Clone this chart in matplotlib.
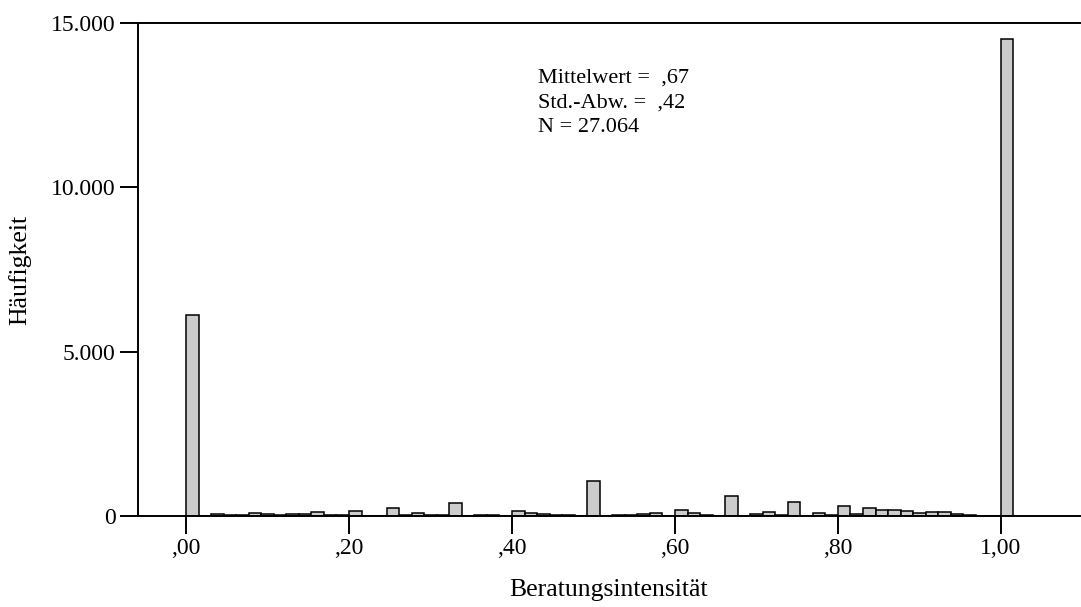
import matplotlib
matplotlib.use('Agg')
import matplotlib.pyplot as plt
import numpy as np

plt.rcParams['font.family'] = ['Liberation Serif', 'DejaVu Serif']

# histogram: 66 bins of width 1/65 starting at 0
bin_width = 1 / 65
counts = [6115, 15, 60, 30, 30, 80, 50, 30, 50, 70, 110,
          30, 20, 140, 10, 10, 235, 20, 80, 20, 20, 385,
          10, 30, 40, 10, 150, 100, 50, 20, 30, 10, 1065,
          10, 20, 30, 60, 100, 15, 180, 90, 40, 10, 610,
          10, 50, 120, 40, 435, 10, 100, 30, 315, 50, 235,
          195, 180, 140, 100, 130, 130, 70, 25, 10, 5, 14500]
x_ticks = [0.0, 0.2, 0.4, 0.6, 0.8, 1.0]
x_tick_labels = [',00', ',20', ',40', ',60', ',80', '1,00']
y_ticks = [0, 5000, 10000, 15000]
y_tick_labels = ['0', '5.000', '10.000', '15.000']
stats = ['Mittelwert =  ,67', 'Std.-Abw. =  ,42', 'N = 27.064']

W, H = 1081, 607
fig = plt.figure(figsize=(W / 100, H / 100), dpi=100)
ax = fig.add_axes([138 / W, 91 / H, 942 / W, 493 / H])

left_edges = np.arange(len(counts)) * bin_width
ax.bar(left_edges, counts, width=bin_width, align='edge',
       color='#cccccc', edgecolor='black', linewidth=1.1, zorder=2)

ax.set_xlim(-0.0589, 1.097)
ax.set_ylim(0, 15000)

ax.set_xticks(x_ticks)
ax.set_xticklabels(x_tick_labels)
ax.set_yticks(y_ticks)
ax.set_yticklabels(y_tick_labels)
ax.tick_params(axis='both', direction='out', length=13, width=1.4,
               labelsize=17, pad=3)

for side in ['left', 'bottom', 'top']:
    ax.spines[side].set_linewidth(1.4)
ax.spines['right'].set_visible(False)

ax.set_xlabel('Beratungsintensität', fontsize=18.5, labelpad=14)
ax.set_ylabel('Häufigkeit', fontsize=18.5, labelpad=14)

for i, line in enumerate(stats):
    fig.text(538 / W, 1 - (78 + i * 25) / H, line, fontsize=16,
             va='center', ha='left')

fig.savefig('out.png', dpi=100)
